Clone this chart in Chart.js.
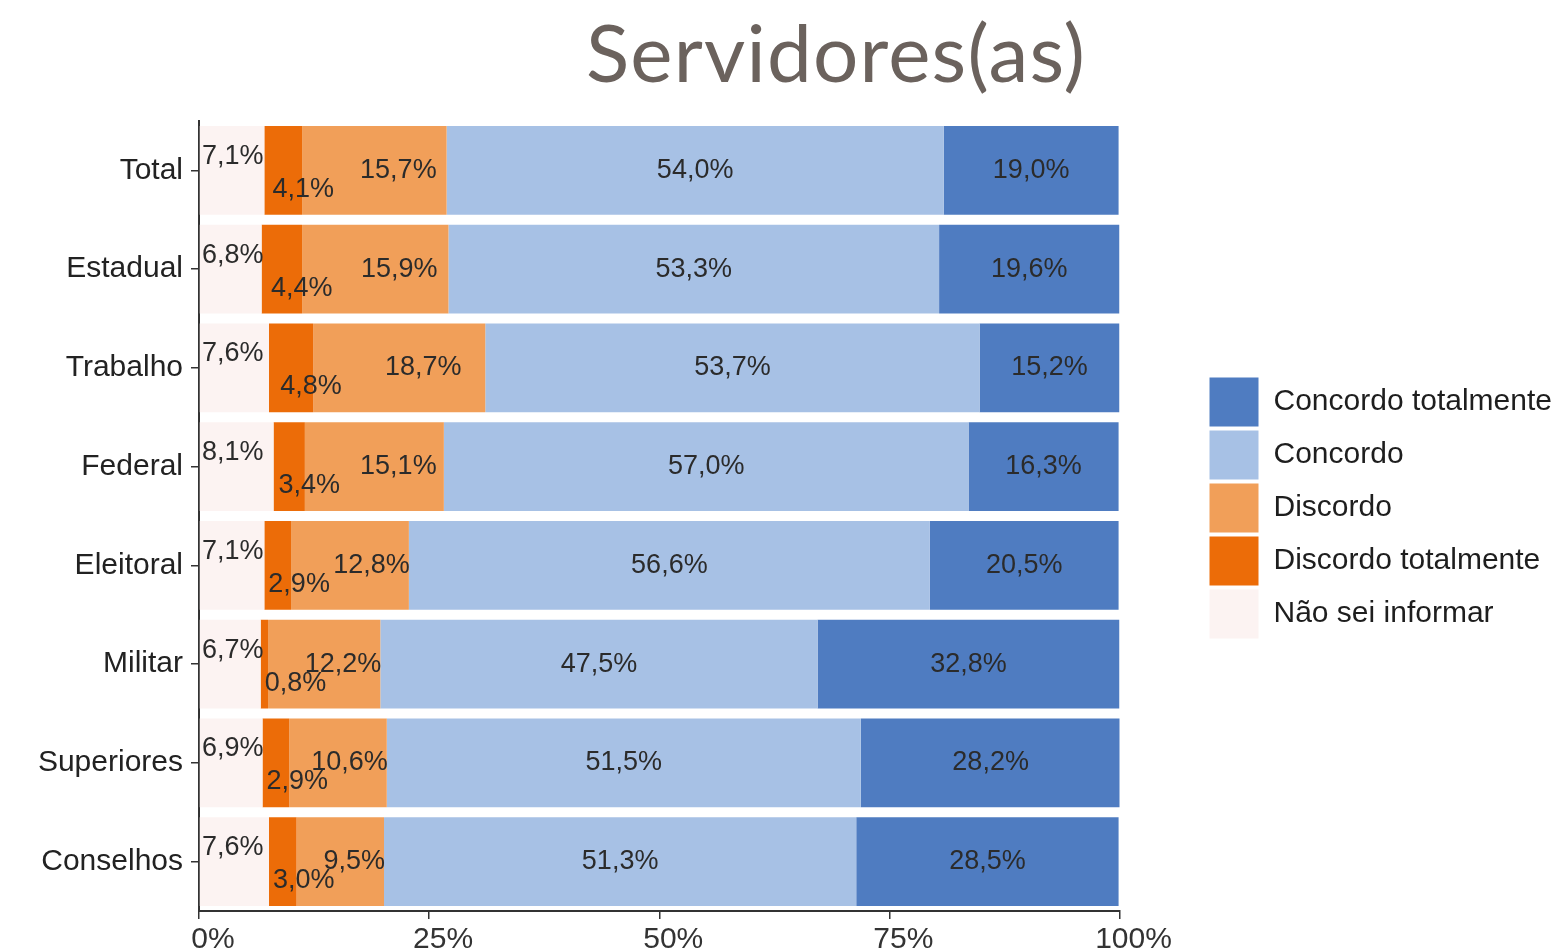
<!DOCTYPE html>
<html>
<head>
<meta charset="utf-8">
<script src="https://cdn.jsdelivr.net/npm/chart.js@4"></script>
<style>
  html, body { margin: 0; padding: 0; background: #fff; }
  #wrap { position: relative; width: 1564px; height: 951px; overflow: hidden; }
  #title { position: absolute; left: 836px; top: 11px; transform: translateX(-50%);
           font-family: Lato, "Open Sans", sans-serif; font-weight: 400; font-size: 80px; line-height: 1;
           letter-spacing: 1.2px; color: #6b625d; white-space: nowrap; margin: 0; }
</style>
</head>
<body>
<div id="wrap">
  <canvas id="c" width="1564" height="951"></canvas>
  <div id="title">Servidores(as)</div>
</div>
<script>
const categories = ["Total", "Estadual", "Trabalho", "Federal", "Eleitoral", "Militar", "Superiores", "Conselhos"];
const seriesNames = ["Não sei informar", "Discordo totalmente", "Discordo", "Concordo", "Concordo totalmente"];
const naoSei      = [7.1, 6.8, 7.6, 8.1, 7.1, 6.7, 6.9, 7.6];
const discTotal   = [4.1, 4.4, 4.8, 3.4, 2.9, 0.8, 2.9, 3.0];
const discordo    = [15.7, 15.9, 18.7, 15.1, 12.8, 12.2, 10.6, 9.5];
const concordo    = [54.0, 53.3, 53.7, 57.0, 56.6, 47.5, 51.5, 51.3];
const concTotal   = [19.0, 19.6, 15.2, 16.3, 20.5, 32.8, 28.2, 28.5];
const xTicks = [0, 25, 50, 75, 100];
const colors = ["#FCF3F2", "#EC6C08", "#F19F59", "#A7C1E5", "#4F7CC1"];

const FONT = "'Liberation Sans', Arial, sans-serif";
const fmt = v => v.toFixed(1).replace('.', ',') + '%';

const labelPlugin = {
  id: 'segLabels',
  afterDatasetsDraw(chart) {
    const ctx = chart.ctx;
    ctx.save();
    ctx.font = "27px " + FONT;
    ctx.fillStyle = "#2b2b2b";
    ctx.textBaseline = 'middle';
    ctx.textAlign = 'center';
    const area = chart.chartArea;
    chart.data.datasets.forEach((ds, di) => {
      const meta = chart.getDatasetMeta(di);
      meta.data.forEach((bar, j) => {
        const txt = fmt(ds.data[j]);
        const w = ctx.measureText(txt).width;
        const x0 = Math.min(bar.base, bar.x), x1 = Math.max(bar.base, bar.x);
        const mid = (x0 + x1) / 2;
        const yc = bar.y;
        let cx, cy;
        if (di === 0) {
          cx = area.left + 3 + w / 2; cy = yc - 14;
        } else if (di === 1) {
          cx = mid + 20;
          if (cx - w / 2 < x0 + 4) cx = x0 + 4 + w / 2;
          cy = yc + 19;
        } else if (di === 2) {
          cx = mid + 24;
          if (cx + w / 2 > x1 + 1) cx = x1 + 1 - w / 2;
          cy = yc;
        } else {
          cx = mid; cy = yc;
        }
        ctx.fillText(txt, cx, cy);
      });
    });
    ctx.restore();
  }
};

// keeps a white gap between the plot and the legend, and lifts the legend a bit
const legendGap = {
  id: 'legendGap',
  beforeLayout(chart) {
    const L = chart.legend;
    if (!L || L._gapPatched) return;
    L._gapPatched = true;
    const GAP = 86, LIFT = 28;
    const fit = L.fit;
    L.fit = function () { fit.call(this); this.width += GAP; };
    const draw = L.draw;
    L.draw = function () {
      this.left += GAP; this.top -= LIFT; this.bottom -= LIFT;
      draw.call(this);
      this.left -= GAP; this.top += LIFT; this.bottom += LIFT;
    };
  }
};

new Chart(document.getElementById('c'), {
  type: 'bar',
  data: {
    labels: categories,
    datasets: [naoSei, discTotal, discordo, concordo, concTotal].map((d, i) => ({
      label: seriesNames[i],
      data: d,
      backgroundColor: colors[i],
      borderWidth: 0,
      barPercentage: 0.9,
      categoryPercentage: 1.0
    }))
  },
  options: {
    indexAxis: 'y',
    responsive: false,
    animation: false,
    layout: { padding: { top: 121, right: 2, left: 0, bottom: 0 } },
    plugins: {
      legend: {
        position: 'right',
        reverse: true,
        labels: {
          boxWidth: 49, boxHeight: 49, padding: 4,
          color: '#1e1e1e',
          font: { family: FONT, size: 30 }
        }
      },
      tooltip: { enabled: false },
      title: { display: false }
    },
    scales: {
      x: {
        type: 'linear', stacked: true, min: 0, max: 100,
        afterBuildTicks: s => { s.ticks = xTicks.map(v => ({ value: v })); },
        afterFit: s => { s.height = 40; },
        ticks: { callback: v => v + '%', color: '#333', font: { family: FONT, size: 30 },
                 padding: 3, maxRotation: 0, labelOffset: 14 },
        grid: { drawOnChartArea: false, tickLength: 8, color: '#333', lineWidth: 1.5 },
        border: { display: true, color: '#333', width: 2 }
      },
      y: {
        type: 'category', stacked: true,
        afterFit: s => { s.width = 199; },
        ticks: { color: '#222', font: { family: FONT, size: 30 }, padding: 8 },
        grid: { drawOnChartArea: false, offset: false, tickLength: 8, color: '#333', lineWidth: 1.5 },
        border: { display: true, color: '#333', width: 2 }
      }
    }
  },
  plugins: [labelPlugin, legendGap]
});
</script>
</body>
</html>
